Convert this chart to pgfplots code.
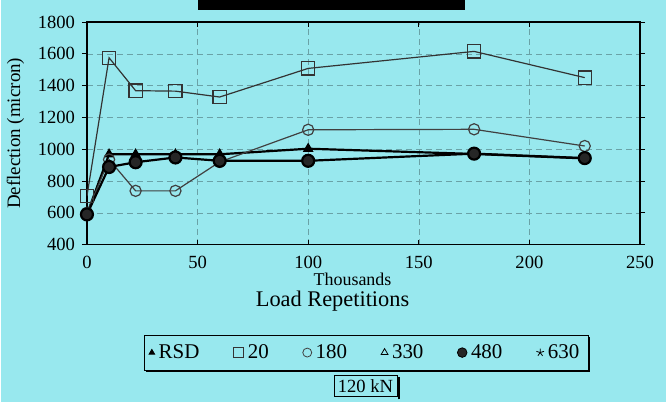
\documentclass[border=0pt]{standalone}
\usepackage{pgfplots}
\pgfplotsset{compat=1.18}
\usetikzlibrary{shadows}
\usepackage{fontspec}
\setmainfont{Liberation Serif}
\definecolor{bg}{RGB}{152,232,238}
\begin{document}
\begin{tikzpicture}
\fill[bg] (0,0) rectangle (333pt,201.5pt);
\fill[black] (98.5pt,196.5pt) rectangle (232.5pt,201.5pt);
\begin{axis}[
  at={(43pt,79pt)}, anchor=south west, scale only axis,
  width=277pt, height=111.5pt,
  xmin=0, xmax=250, ymin=400, ymax=1800,
  xtick={0,50,...,250}, ytick={400,600,...,1800},
  /pgf/number format/assume math mode=true,
  /pgf/number format/1000 sep={},
  tick label style={font=\fontsize{9.3}{10}\selectfont},
  xticklabel style={yshift=-2pt},
  xtick align=inside, ytick align=outside,
  major tick length=2.5pt,
  tick style={black, thin},
  axis line style={black, line width=0.8pt},
  grid=major,
  grid style={densely dashed, black!30!bg, very thin},
  ylabel={Deflection (micron)},
  ylabel style={font=\fontsize{9.5}{11}\selectfont},
  legend columns=6,
  legend style={at={(0.505,-0.485)}, anchor=center, draw=black, thin, fill=bg,
    font=\fontsize{10.5}{12}\selectfont, inner sep=2.5pt,
    /tikz/every even column/.append style={column sep=15pt},
    drop shadow={shadow xshift=1pt, shadow yshift=-1pt, fill=black, opacity=1}},
  legend image code/.code={\draw[#1, line width=0.4pt] plot coordinates {(0.12cm,0cm)};},
  legend image post style={every mark/.append style={scale=0.8}},
]
\addplot[black, line width=1.1pt, mark=triangle*, mark size=2pt, mark options={solid}]
  coordinates {(0,590) (10,968) (22,968) (40,968) (60,968) (100,1003) (175,970) (225,942)};
\addlegendentry{RSD}
\addplot[black!80, line width=0.6pt, mark=square, mark size=3.3pt, mark options={fill=none}]
  coordinates {(0,705) (10,1575) (22,1368) (40,1365) (60,1328) (100,1508) (175,1615) (225,1450)};
\addlegendentry{20}
\addplot[black!75, line width=0.6pt, mark=o, mark size=2.8pt]
  coordinates {(0,600) (10,935) (22,738) (40,738) (60,920) (100,1122) (175,1125) (225,1020)};
\addlegendentry{180}
\addlegendimage{black, mark=triangle, mark size=2.5pt}
\addlegendentry{330}
\addplot[black, line width=1.1pt, mark=*, mark size=3pt, mark options={fill=black!85}]
  coordinates {(0,590) (10,888) (22,918) (40,948) (60,927) (100,927) (175,972) (225,944)};
\addlegendentry{480}
\addlegendimage{black, mark=star, mark size=2.5pt}
\addlegendentry{630}
\end{axis}
\node[font=\fontsize{9}{10}\selectfont, inner sep=1pt] at (176pt,61.5pt) {Thousands};
\node[font=\fontsize{11.2}{13}\selectfont, inner sep=1pt] at (166pt,50.5pt) {Load Repetitions};
\node[draw=black, thin, fill=bg, inner sep=2pt, font=\fontsize{9.3}{10}\selectfont] (kn) at (182.5pt,8pt) {120 kN};
\draw[black, line width=1.3pt] ([xshift=0.8pt,yshift=-1pt]kn.south east) -- ([xshift=0.8pt,yshift=-1pt]kn.north east);
\end{tikzpicture}
\end{document}
